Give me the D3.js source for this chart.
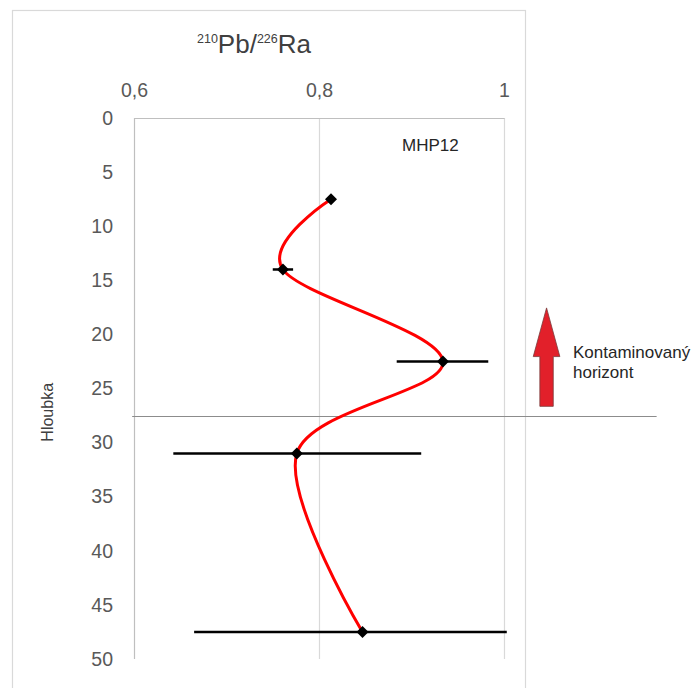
<!DOCTYPE html>
<html><head><meta charset="utf-8">
<script src="https://cdn.jsdelivr.net/npm/d3@7"></script>
<style>
html,body{margin:0;padding:0;background:#fff;}
text{font-family:"Liberation Sans",Arial,sans-serif;}
</style></head>
<body>
<svg id="c" width="694" height="688"></svg>
<script>
// ---- data ----
const depth = [7.5, 14, 22.5, 31, 47.5];
const ratio = [0.813, 0.761, 0.934, 0.776, 0.847];
const errLow = [null, 0.750, 0.884, 0.6425, 0.665];
const errHigh = [null, 0.772, 0.983, 0.9105, 1.003];
const xTicks = [0.6, 0.8, 1];
const xTickLabels = ["0,6", "0,8", "1"];
const yTicks = [0, 5, 10, 15, 20, 25, 30, 35, 40, 45, 50];
const boundaryDepth = [27.5];
const sampleLabel = "MHP12";
const annotationLines = ["Kontaminovaný", "horizont"];

// ---- layout ----
const svg = d3.select("#c");
const x = d3.scaleLinear().domain([0.6, 1]).range([134, 504]);
const y = d3.scaleLinear().domain([0, 50]).range([118, 659]);

// outer chart frame
svg.append("rect").attr("x", 12.5).attr("y", 10.5).attr("width", 513).attr("height", 700)
  .attr("fill", "none").attr("stroke", "#d9d9d9").attr("stroke-width", 1.2);

// gridlines
svg.append("g").selectAll("line").data(xTicks.slice(1)).join("line")
  .attr("x1", d => Math.round(x(d)) + 0.5).attr("x2", d => Math.round(x(d)) + 0.5)
  .attr("y1", y(0)).attr("y2", y(50))
  .attr("stroke", "#d9d9d9").attr("stroke-width", 1.2);

// axes lines
svg.append("line").attr("x1", x(0.6) + 0.5).attr("x2", x(0.6) + 0.5).attr("y1", y(0)).attr("y2", y(50))
  .attr("stroke", "#bfbfbf").attr("stroke-width", 1.2);
svg.append("line").attr("x1", x(0.6)).attr("x2", x(1) + 0.5).attr("y1", y(0) + 0.5).attr("y2", y(0) + 0.5)
  .attr("stroke", "#bfbfbf").attr("stroke-width", 1.2);

// x axis (top)
const xa = svg.append("g").attr("transform", `translate(0,${y(0)})`)
  .call(d3.axisTop(x).tickValues(xTicks).tickSize(0).tickPadding(21)
    .tickFormat((d, i) => xTickLabels[i]));
xa.select(".domain").remove();
xa.selectAll("text").attr("font-size", 19.5).attr("fill", "#595959")
  .attr("font-family", "Liberation Sans, Arial, sans-serif");

// y axis (left)
const ya = svg.append("g").attr("transform", `translate(${x(0.6)},0)`)
  .call(d3.axisLeft(y).tickValues(yTicks).tickSize(0).tickPadding(21));
ya.select(".domain").remove();
ya.selectAll("text").attr("font-size", 19.5).attr("fill", "#595959")
  .attr("font-family", "Liberation Sans, Arial, sans-serif");

// title
const t = svg.append("text").attr("x", 197).attr("y", 53).attr("fill", "#404040").attr("font-size", 26);
t.append("tspan").attr("font-size", 12.5).attr("dy", -10).text("210");
t.append("tspan").attr("dy", 10).text("Pb/");
t.append("tspan").attr("font-size", 12.5).attr("dy", -10).text("226");
t.append("tspan").attr("dy", 10).text("Ra");

// y axis title
svg.append("text").attr("transform", `translate(53,${y(27.2)}) rotate(-90)`)
  .attr("text-anchor", "middle").attr("font-size", 16).attr("fill", "#404040").text("Hloubka");

// sample label
svg.append("text").attr("x", 402).attr("y", 151).attr("font-size", 17).attr("fill", "#262626").text(sampleLabel);

// boundary line
svg.append("g").selectAll("line").data(boundaryDepth).join("line")
  .attr("x1", x(0.598)).attr("x2", x(1.165))
  .attr("y1", d => Math.round(y(d)) + 0.5).attr("y2", d => Math.round(y(d)) + 0.5)
  .attr("stroke", "#8c8c8c").attr("stroke-width", 1.2);

// arrow annotation
const ax = x(1.046), hw = 13.3, sw = 6.7;
const tipY = y(17.55), baseY = y(22.05), botY = y(26.65);
svg.append("path")
  .attr("d", `M${ax},${tipY} L${ax + hw},${baseY} L${ax + sw},${baseY} L${ax + sw},${botY} L${ax - sw},${botY} L${ax - sw},${baseY} L${ax - hw},${baseY} Z`)
  .attr("fill", "#e2202a").attr("stroke", "#7a3a3a").attr("stroke-width", 0.8);
const at = svg.append("text").attr("x", 573).attr("y", 358).attr("font-size", 17).attr("fill", "#262626");
annotationLines.forEach((s, i) => at.append("tspan").attr("x", 573).attr("dy", i === 0 ? 0 : 19.5).text(s));

// error bars
const pts = depth.map((d, i) => ({d, r: ratio[i], lo: errLow[i], hi: errHigh[i]}));
svg.append("g").selectAll("line").data(pts.filter(p => p.lo != null)).join("line")
  .attr("x1", p => x(p.lo)).attr("x2", p => x(p.hi))
  .attr("y1", p => y(p.d)).attr("y2", p => y(p.d))
  .attr("stroke", "#000").attr("stroke-width", 2.5);

// smoothed line
const line = d3.line().x(p => x(p.r)).y(p => y(p.d)).curve(d3.curveCatmullRom.alpha(0));
svg.append("path").datum(pts).attr("d", line)
  .attr("fill", "none").attr("stroke", "#ff0000").attr("stroke-width", 3);

// markers (diamonds)
svg.append("g").selectAll("path").data(pts).join("path")
  .attr("transform", p => `translate(${x(p.r)},${y(p.d)})`)
  .attr("d", "M0,-6L6,0L0,6L-6,0Z").attr("fill", "#000");
</script>
</body></html>
